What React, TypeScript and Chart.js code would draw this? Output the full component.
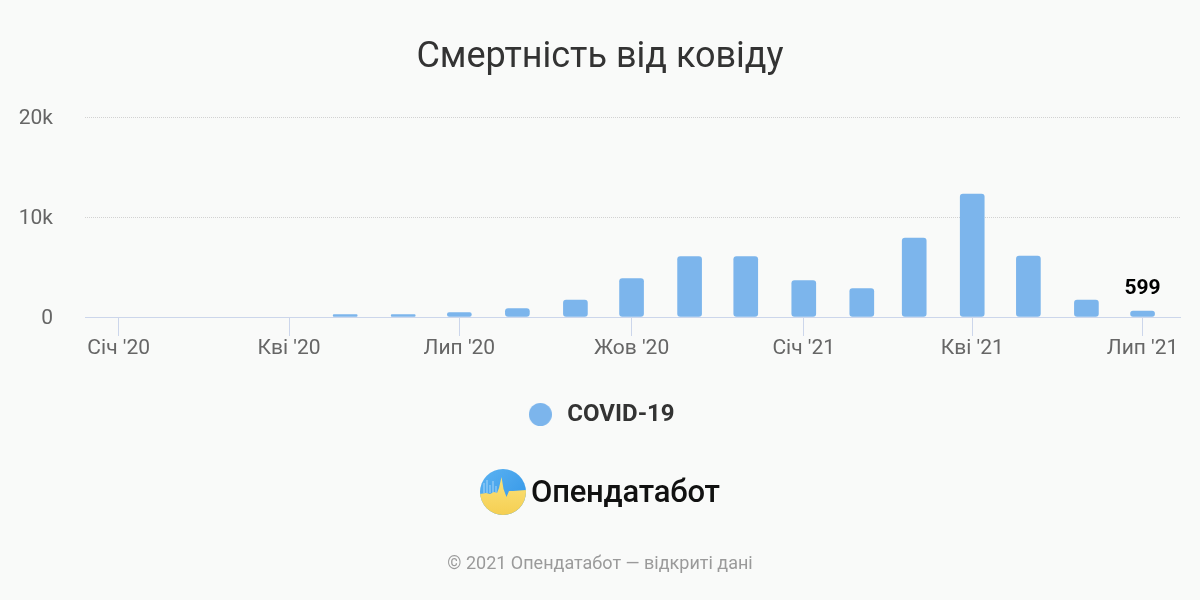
import React, { useEffect, useRef } from 'react';
import { Chart, registerables } from 'chart.js';

Chart.register(...registerables);

const chartTitle = 'Смертність від ковіду';
const seriesName = 'COVID-19';
const months = ['2020-05', '2020-06', '2020-07', '2020-08', '2020-09', '2020-10', '2020-11', '2020-12', '2021-01', '2021-02', '2021-03', '2021-04', '2021-05', '2021-06', '2021-07'];
const deaths = [250, 250, 450, 850, 1700, 3850, 6050, 6050, 3650, 2850, 7900, 12300, 6100, 1700, 599];
const xTickMonths = ['2020-01', '2020-04', '2020-07', '2020-10', '2021-01', '2021-04', '2021-07'];
const xTickLabels = ["Січ '20", "Кві '20", "Лип '20", "Жов '20", "Січ '21", "Кві '21", "Лип '21"];
const yTicks = [0, 10000, 20000];
const yTickLabels = ['0', '10k', '20k'];
const brandName = 'Опендатабот';
const footerText = '© 2021 Опендатабот — відкриті дані';

const dayOf = (ym: string) => {
  const [y, m] = ym.split('-').map(Number);
  return Date.UTC(y, m - 1, 1) / 86400000;
};
const tickDays = xTickMonths.map(dayOf);

const BAR = '#7cb5ec';

const lastLabelPlugin = {
  id: 'lastLabel',
  afterDatasetsDraw(chart: any) {
    const meta = chart.getDatasetMeta(0);
    const i = deaths.length - 1;
    const el = meta.data[i];
    if (!el) return;
    const ctx = chart.ctx;
    ctx.save();
    ctx.font = 'bold 21px Roboto';
    ctx.fillStyle = '#000';
    ctx.textAlign = 'center';
    ctx.textBaseline = 'alphabetic';
    ctx.fillText(String(deaths[i]), el.x, el.y - 17);
    ctx.restore();
  },
};

export default function App() {
  const ref = useRef<HTMLCanvasElement>(null);
  useEffect(() => {
    if (!ref.current) return;
    Chart.defaults.font.family = 'Roboto';
    const dot = document.createElement('canvas');
    dot.width = 23;
    dot.height = 23;
    const dctx = dot.getContext('2d')!;
    dctx.fillStyle = BAR;
    dctx.beginPath();
    dctx.arc(11.5, 11.5, 11.5, 0, Math.PI * 2);
    dctx.fill();

    const chart = new Chart(ref.current, {
      type: 'bar',
      data: {
        datasets: [
          {
            label: seriesName,
            data: months.map((m, i) => ({ x: dayOf(m), y: deaths[i] })),
            backgroundColor: BAR,
            borderWidth: 0,
            borderRadius: 3,
            borderSkipped: false,
            barThickness: 24,
          } as any,
        ],
      },
      options: {
        responsive: false,
        animation: false,
        layout: { padding: { top: 0, left: 0, right: 0, bottom: 163.5 } },
        plugins: {
          title: {
            display: true,
            text: chartTitle,
            color: '#333',
            font: { size: 36, weight: 'normal' },
            padding: { top: 36, bottom: 38 },
          },
          legend: {
            display: true,
            position: 'bottom',
            labels: {
              usePointStyle: true,
              pointStyle: dot as any,
              pointStyleWidth: 30,
              boxHeight: 24,
              color: '#333',
              font: { size: 24, weight: 'bold' },
              padding: 10,
            },
          },
          tooltip: { enabled: false },
        },
        scales: {
          x: {
            type: 'linear',
            min: dayOf('2020-01') - 18,
            max: dayOf('2021-07') + 20,
            offset: false,
            grid: { display: true, drawOnChartArea: false, drawTicks: true, tickLength: 19, tickColor: '#ccd6eb', offset: false },
            border: { display: true, color: '#ccd6eb', width: 1 },
            ticks: {
              autoSkip: false,
              maxRotation: 0,
              padding: 0,
              color: '#666',
              font: { size: 21 },
              callback: (v: any) => {
                const i = tickDays.indexOf(Number(v));
                return i >= 0 ? xTickLabels[i] : '';
              },
            },
            afterBuildTicks: (s: any) => {
              s.ticks = tickDays.map((v) => ({ value: v }));
            },
            afterFit: (s: any) => {
              s.height = 75.5;
            },
          },
          y: {
            min: 0,
            max: 20000,
            grid: {
              drawTicks: false,
              color: (c: any) => (c.tick && c.tick.value === 0 ? 'rgba(0,0,0,0)' : '#d2d2d2'),
            },
            border: { display: false, dash: [1, 1] },
            ticks: {
              padding: 32,
              labelOffset: 2,
              color: '#666',
              font: { size: 21 },
              callback: (v: any) => {
                const i = yTicks.indexOf(Number(v));
                return i >= 0 ? yTickLabels[i] : '';
              },
            },
            afterBuildTicks: (s: any) => {
              s.ticks = yTicks.map((v) => ({ value: v }));
            },
            afterFit: (s: any) => {
              s.width = 85;
            },
          },
          yRight: {
            position: 'right',
            display: true,
            grid: { display: false },
            border: { display: false },
            ticks: { display: false },
            afterFit: (s: any) => {
              s.width = 20;
            },
          },
        },
      } as any,
      plugins: [lastLabelPlugin],
    });
    return () => chart.destroy();
  }, []);

  return (
    <div
      style={{
        position: 'absolute',
        left: 0,
        top: 0,
        width: 1200,
        height: 600,
        background: '#f9faf9',
        overflow: 'hidden',
        fontFamily: 'Roboto, sans-serif',
      }}
    >
      <canvas ref={ref} width={1200} height={600} style={{ position: 'absolute', left: 0, top: 0 }} />
      <svg width={46} height={46} viewBox="0 0 46 46" style={{ position: 'absolute', left: 480, top: 469 }}>
        <defs>
          <linearGradient id="lgBlue" x1="0" y1="0" x2="1" y2="1">
            <stop offset="0" stopColor="#5cb3f2" />
            <stop offset="1" stopColor="#2f93e6" />
          </linearGradient>
          <linearGradient id="lgYellow" x1="0" y1="0" x2="0" y2="1">
            <stop offset="0" stopColor="#fbe27a" />
            <stop offset="1" stopColor="#f5cf52" />
          </linearGradient>
          <clipPath id="lgClip">
            <circle cx="23" cy="23" r="23" />
          </clipPath>
        </defs>
        <g clipPath="url(#lgClip)">
          <rect x="0" y="0" width="46" height="46" fill="url(#lgBlue)" />
          <path d="M4 24 V14 M7 24 V11 M10 24 V16 M13 24 V12 M16 24 V17" stroke="#a9d6f7" strokeWidth="1" />
          <polygon
            points="0,25 6,24 10,25 14,23 17,24 19,19 21.5,8 23.5,20 26.5,28 29,22 33,22 46,21 46,46 0,46"
            fill="url(#lgYellow)"
          />
        </g>
      </svg>
      <div
        style={{
          position: 'absolute',
          left: 531,
          top: 472,
          height: 40,
          lineHeight: '40px',
          fontSize: 31,
          fontWeight: 500,
          color: '#111',
          letterSpacing: -0.2,
        }}
      >
        {brandName}
      </div>
      <div
        style={{
          position: 'absolute',
          left: 0,
          width: 1200,
          top: 552,
          lineHeight: '22px',
          textAlign: 'center',
          fontSize: 18,
          color: '#9a9a9a',
        }}
      >
        {footerText}
      </div>
    </div>
  );
}
